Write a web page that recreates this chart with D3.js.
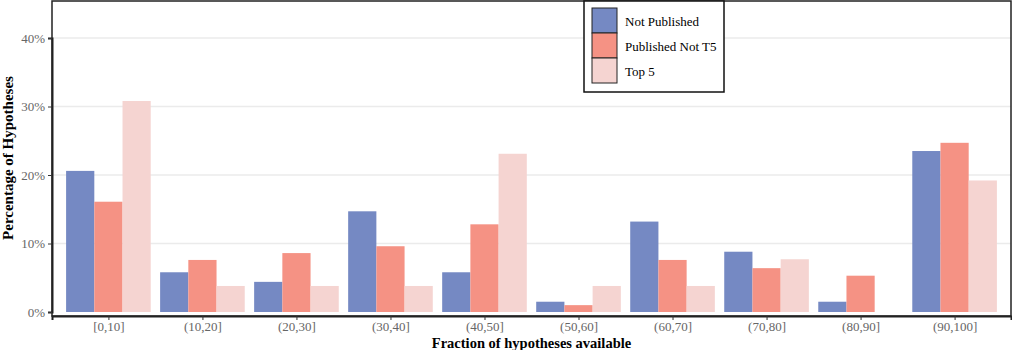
<!DOCTYPE html>
<html>
<head>
  <meta charset="utf-8">
  <title>hypotheses</title>
  <script src="https://d3js.org/d3.v7.min.js"></script>
  <style>
    body { margin: 0; background: #fff; }
    text { font-family: "Liberation Serif", "DejaVu Serif", serif; }
  </style>
</head>
<body>
<div id="chart"></div>
<script>
// categories and series (percent of hypotheses)
var categories = ["[0,10]", "(10,20]", "(20,30]", "(30,40]", "(40,50]",
                  "(50,60]", "(60,70]", "(70,80]", "(80,90]", "(90,100]"];
var seriesNames = ["Not Published", "Published Not T5", "Top 5"];
var notPublished   = [20.6, 5.8, 4.4, 14.7, 5.8, 1.5, 13.2, 8.8, 1.5, 23.5];
var publishedNotT5 = [16.1, 7.6, 8.6, 9.6, 12.8, 1.0, 7.6, 6.4, 5.3, 24.7];
var top5           = [30.8, 3.8, 3.8, 3.8, 23.1, 3.8, 3.8, 7.7, 0, 19.2];
var yTicks = [0, 10, 20, 30, 40];

var colors = ["#7589c3", "#f59284", "#f5d4d1"];
var series = [notPublished, publishedNotT5, top5];

var width = 1012, height = 350;
var panel = {left: 52, right: 1011, top: 1, bottom: 316};

var svg = d3.select("#chart").append("svg")
    .attr("width", width)
    .attr("height", height);

// scales
var x = d3.scalePoint()
    .domain(categories)
    .range([panel.left, panel.right])
    .padding(0.6);
var step = x.step();
var xSub = d3.scaleBand()
    .domain(seriesNames)
    .range([-0.45 * step, 0.45 * step]);
var y = d3.scaleLinear()
    .domain([0, 40])
    .range([312, 38]);

// grid
svg.append("g").selectAll("line")
  .data(yTicks.slice(1))
  .enter().append("line")
    .attr("x1", panel.left).attr("x2", panel.right)
    .attr("y1", function(d) { return y(d); })
    .attr("y2", function(d) { return y(d); })
    .attr("stroke", "#ebebeb")
    .attr("stroke-width", 1.5);

// bars
var rows = [];
categories.forEach(function(c, i) {
  seriesNames.forEach(function(s, j) {
    rows.push({cat: c, name: s, value: series[j][i], color: colors[j]});
  });
});
svg.append("g").selectAll("rect")
  .data(rows)
  .enter().append("rect")
    .attr("x", function(d) { return x(d.cat) + xSub(d.name); })
    .attr("y", function(d) { return y(d.value); })
    .attr("width", xSub.bandwidth())
    .attr("height", function(d) { return y(0) - y(d.value); })
    .attr("fill", function(d) { return d.color; });

// panel border
svg.append("rect")
    .attr("x", panel.left).attr("y", panel.top)
    .attr("width", panel.right - panel.left)
    .attr("height", panel.bottom - panel.top)
    .attr("fill", "none")
    .attr("stroke", "#222")
    .attr("stroke-width", 1.5);

// axes
var yAxis = svg.append("g")
    .attr("transform", "translate(" + panel.left + ",0)")
    .call(d3.axisLeft(y).tickValues(yTicks)
      .tickFormat(function(d) { return d + "%"; })
      .tickSize(4).tickPadding(3));
var xAxis = svg.append("g")
    .attr("transform", "translate(0," + panel.bottom + ")")
    .call(d3.axisBottom(x).tickSize(4).tickPadding(2));
[xAxis, yAxis].forEach(function(a) {
  a.attr("font-family", null);
  a.select(".domain").attr("stroke", "#222").attr("stroke-width", 2);
  a.selectAll(".tick line").attr("stroke", "#333");
  a.selectAll(".tick text")
    .attr("fill", "#666")
    .style("font-size", "13px")
    .style("font-family", "'Liberation Serif', serif");
});

// titles
svg.append("text")
    .attr("x", (panel.left + panel.right) / 2)
    .attr("y", 348)
    .attr("text-anchor", "middle")
    .style("font-size", "14.5px")
    .style("font-weight", "bold")
    .text("Fraction of hypotheses available");
svg.append("text")
    .attr("transform", "translate(13," + 158 + ") rotate(-90)")
    .attr("text-anchor", "middle")
    .style("font-size", "15px")
    .style("font-weight", "bold")
    .text("Percentage of Hypotheses");

// legend
var legend = svg.append("g").attr("transform", "translate(584,1)");
legend.append("rect")
    .attr("width", 140).attr("height", 91)
    .attr("fill", "#fff")
    .attr("stroke", "#111")
    .attr("stroke-width", 1.5);
seriesNames.forEach(function(s, i) {
  legend.append("rect")
    .attr("x", 8).attr("y", 7 + i * 25)
    .attr("width", 25).attr("height", 25)
    .attr("fill", colors[i])
    .attr("stroke", "#222")
    .attr("stroke-width", 1);
  legend.append("text")
    .attr("x", 41).attr("y", 20 + i * 25)
    .attr("dy", "0.35em")
    .style("font-size", "13px")
    .text(s);
});
</script>
</body>
</html>
